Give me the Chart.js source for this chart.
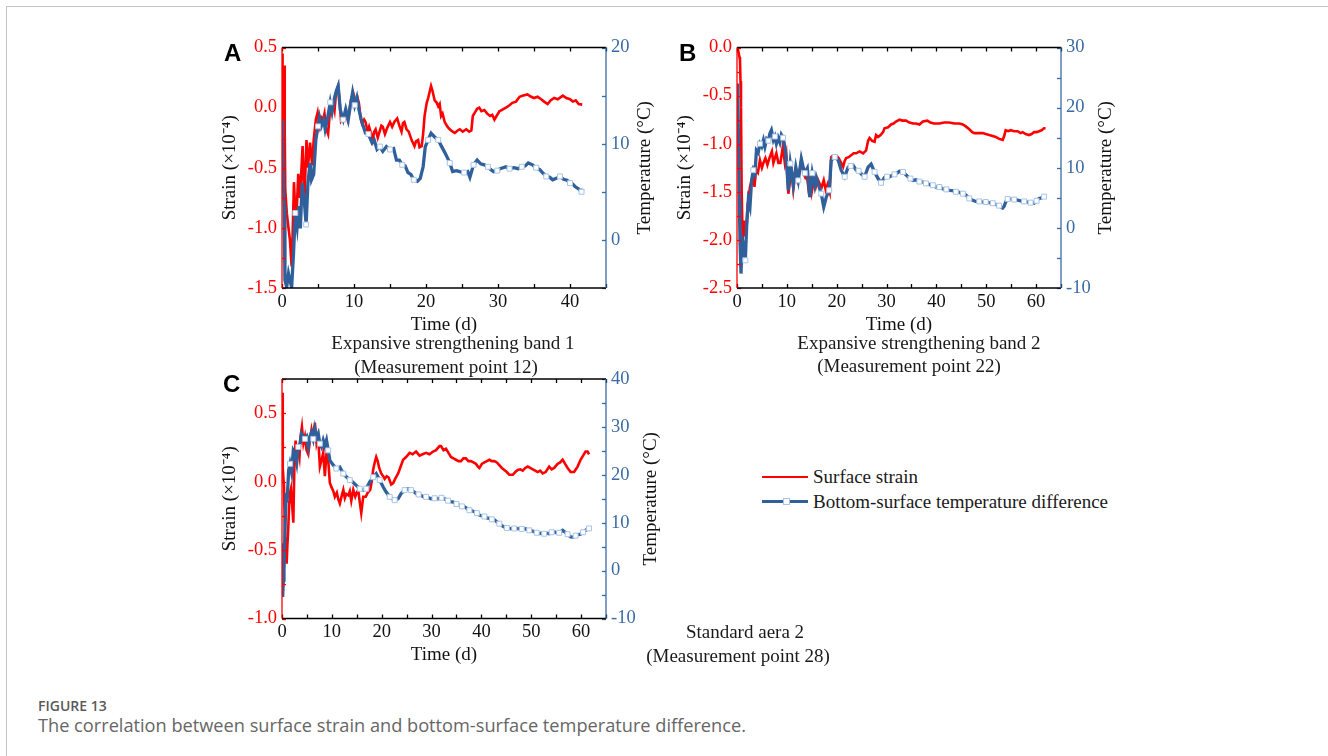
<!DOCTYPE html>
<html><head><meta charset="utf-8">
<script src="https://cdn.jsdelivr.net/npm/chart.js@4.4.1/dist/chart.umd.min.js"></script>
<style>
html,body{margin:0;padding:0;background:#fff;}
body{width:1328px;height:756px;position:relative;overflow:hidden;}
.abs{position:absolute;}
canvas{position:absolute;}
.serif{position:absolute;font-family:"Liberation Serif","Times New Roman",serif;font-size:19px;color:#1a1a1a;line-height:22px;white-space:nowrap;text-align:center;width:400px;}
.lt{text-align:left;width:auto;}
.letter{position:absolute;font-family:"Liberation Sans",Arial,sans-serif;font-weight:bold;font-size:24px;line-height:28px;color:#000;}
.cap1{position:absolute;left:38px;top:697px;font-family:"Open Sans",sans-serif;font-size:14px;font-weight:600;color:#5a5a5a;line-height:18px;}
.cap2{position:absolute;left:38px;top:713px;font-family:"Open Sans",sans-serif;font-size:18.2px;color:#666;line-height:24px;white-space:nowrap;}
</style></head><body>
<div class="abs" style="left:6px;top:6px;width:1330px;height:760px;border-top:1px solid #c4c4c4;border-left:1px solid #c4c4c4;"></div>

<canvas id="cA" width="460" height="320" style="left:210px;top:30px"></canvas>
<canvas id="cB" width="460" height="320" style="left:670px;top:30px"></canvas>
<canvas id="cC" width="460" height="320" style="left:210px;top:360px"></canvas>

<div class="letter" style="left:224px;top:39px">A</div>
<div class="letter" style="left:679px;top:39px">B</div>
<div class="letter" style="left:223px;top:370px">C</div>

<div class="serif" style="left:253px;top:332px">Expansive strengthening band 1</div>
<div class="serif" style="left:246px;top:356px">(Measurement point 12)</div>
<div class="serif" style="left:719px;top:332px">Expansive strengthening band 2</div>
<div class="serif" style="left:709px;top:355px">(Measurement point 22)</div>
<div class="serif" style="left:545px;top:621px">Standard aera 2</div>
<div class="serif" style="left:538px;top:645px">(Measurement point 28)</div>

<div class="abs" style="left:762px;top:476px;width:46px;height:2px;background:#ff0000"></div>
<div class="serif lt" style="left:813px;top:466px">Surface strain</div>
<div class="abs" style="left:762px;top:500px;width:46px;height:3px;background:#2f609c"></div>
<div class="abs" style="left:783px;top:498px;width:5px;height:5px;background:#fff;border:1px solid #a9c4e6"></div>
<div class="serif lt" style="left:813px;top:491px">Bottom-surface temperature difference</div>

<div class="cap1">FIGURE 13</div>
<div class="cap2">The correlation between surface strain and bottom-surface temperature difference.</div>

<script>
// ---------- Panel A (Expansive strengthening band 1, point 12) ----------
const timeStrainA = [0,0.08,0.18,0.28,0.38,0.45,0.67,0.9,1.1,1.34,1.5,1.66,1.94,2.26,2.5,2.86,3.1,3.4,3.6,3.9,4.2,4.4,4.7,4.95,5.2,5.45,5.7,5.9,6.1,6.4,6.7,7.1,7.3,7.5,7.8,8.0,8.2,8.5,8.8,9.1,9.3,9.6,9.9,10.2,10.5,10.7,10.9,11.1,11.4,11.6,11.9,12.1,12.4,12.6,12.8,13.0,13.3,13.5,13.8,14.0,14.3,14.6,15.0,15.3,15.6,16.0,16.3,16.6,16.8,17.0,17.3,17.6,18.0,18.4,18.6,18.9,19.1,19.4,19.6,19.8,20.1,20.3,20.5,20.7,20.9,21.2,21.5,21.7,21.9,22.1,22.3,22.6,23.0,23.3,23.7,24.0,24.4,24.7,25.1,25.6,26.0,26.3,26.5,26.8,27.1,27.4,27.7,28.1,28.5,28.9,29.2,29.5,29.8,30.2,30.5,31.1,31.6,32.0,32.5,33.0,33.5,34.1,34.6,35.0,35.5,36.0,36.4,36.9,37.3,37.8,38.3,39.0,39.5,40.0,40.4,40.8,41.2,41.7];
const strainA = [0.45,-0.55,0.05,0.35,-0.2,-0.68,-0.88,-1.0,-1.1,-1.32,-1.0,-0.62,-1.0,-0.55,-0.75,-0.32,-0.8,-0.27,-0.5,-0.29,-0.48,-0.27,-0.1,-0.04,-0.15,-0.08,-0.1,-0.05,-0.17,-0.22,0.0,0.04,-0.02,0.12,0.18,0.05,-0.11,-0.08,-0.04,-0.1,-0.04,0.07,0.12,0.05,0.08,0.03,-0.08,-0.13,-0.1,-0.12,-0.2,-0.16,-0.22,-0.27,-0.2,-0.18,-0.25,-0.21,-0.15,-0.16,-0.22,-0.17,-0.12,-0.16,-0.12,-0.09,-0.15,-0.2,-0.13,-0.12,-0.18,-0.2,-0.27,-0.32,-0.28,-0.27,-0.33,-0.32,-0.22,-0.07,0.04,0.08,0.13,0.18,0.14,0.06,0.04,0.01,0.03,-0.07,-0.05,-0.12,-0.16,-0.18,-0.2,-0.21,-0.19,-0.18,-0.2,-0.18,-0.2,-0.19,-0.07,-0.04,-0.01,0.0,-0.03,-0.02,-0.05,-0.07,-0.06,-0.1,-0.07,-0.03,-0.02,0.0,0.02,0.04,0.05,0.09,0.1,0.11,0.09,0.08,0.09,0.07,0.05,0.03,0.06,0.08,0.07,0.1,0.08,0.07,0.05,0.06,0.03,0.025];
const timeTempA = [0,0.1,0.2,0.3,0.41,0.65,0.9,1.1,1.34,1.6,1.85,2.1,2.3,2.55,2.8,3.05,3.35,3.6,3.9,4.1,4.4,4.7,5.0,5.2,5.45,5.8,6.0,6.3,6.7,6.95,7.3,7.55,7.8,8.1,8.5,8.85,9.2,9.5,9.8,10.1,10.4,10.7,11.0,11.3,11.6,12.0,12.5,12.8,13.2,13.6,14.0,14.5,15.0,15.5,15.9,16.3,16.7,17.1,17.5,17.9,18.3,18.8,19.2,19.6,19.9,20.3,20.7,21.2,21.7,22.1,22.6,23.0,23.3,23.7,24.2,24.7,25.3,25.8,26.1,26.6,27.1,27.6,28.1,28.6,29.0,29.4,29.9,30.3,31.1,31.6,32.2,32.8,33.3,33.8,34.2,34.8,35.3,35.8,36.3,36.7,37.2,37.6,38.1,38.6,39.1,39.6,40.0,40.4,40.7,41.2,41.6,41.8];
const tempA = [12.5,10,6.0,3.5,-4.2,-4.9,-3.5,-4.2,-4.9,-1.4,2.8,1.4,3.5,1.2,5.9,4.5,1.6,5.9,8.0,6.25,6.8,10.4,11.8,12.7,11.8,12.5,11.5,12.5,14.3,13.3,14.8,15.5,16.0,13.5,12.5,13.6,12.5,14.0,15.3,14.0,14.8,13.5,12.5,11.8,11.1,11.0,10.1,10.4,9.4,9.7,9.2,9.7,9.4,9.5,8.3,8.3,7.8,7.7,7.0,6.8,6.25,6.1,6.4,7.6,9.7,10.4,11.1,10.7,10.4,9.8,9.1,8.5,8.0,7.1,7.2,7.1,7.0,7.1,6.5,7.8,8.3,7.9,7.8,7.6,7.3,7.1,7.2,7.4,7.6,7.4,7.5,7.4,7.6,7.7,8.0,7.8,7.5,7.3,6.9,6.6,6.5,6.25,6.4,6.6,6.3,6.2,5.9,5.8,5.55,5.3,5.0,5.3];

// ---------- Panel B (Expansive strengthening band 2, point 22) ----------
const timeStrainB = [0,0.1,0.3,0.5,0.6,0.7,0.8,0.93,1.13,1.27,1.45,1.6,1.8,1.93,2.1,2.27,2.6,2.93,3.3,3.5,3.8,4.2,4.6,5.0,5.3,5.7,6.1,6.5,7.0,7.3,7.9,8.3,8.7,9.2,9.6,9.9,10.3,10.6,10.9,11.3,11.7,12.1,12.5,12.9,13.3,13.7,14.0,14.3,14.7,15.0,15.4,15.8,16.2,16.6,17.0,17.4,17.8,18.2,18.6,18.9,19.3,19.9,20.4,20.9,21.3,21.6,21.9,22.4,22.9,23.4,23.9,24.6,25.3,25.9,26.3,26.6,27.1,27.6,27.9,28.3,28.8,29.3,29.6,30.3,30.9,31.4,31.9,32.6,33.2,33.9,34.6,35.3,35.9,36.6,37.3,38.2,38.8,39.5,40.6,41.6,42.6,43.6,44.6,45.3,45.9,46.6,47.2,47.6,48.4,49.3,49.9,50.6,51.3,51.9,52.6,53.3,53.6,53.9,54.4,54.9,55.6,56.3,56.9,57.3,57.9,58.6,59.1,59.6,60.1,60.6,61.1,61.6,61.9];
const strainB = [-0.02,0.0,-0.05,-0.1,-0.13,-0.35,-0.62,-1.48,-2.0,-1.8,-1.95,-1.93,-1.8,-1.87,-1.65,-1.59,-1.45,-1.38,-1.3,-1.45,-1.27,-1.3,-1.17,-1.25,-1.2,-1.15,-1.22,-1.15,-1.08,-1.2,-1.1,-1.2,-1.2,-1.03,-1.2,-1.12,-1.52,-1.4,-1.24,-1.47,-1.3,-1.38,-1.3,-1.17,-1.3,-1.35,-1.32,-1.45,-1.35,-1.5,-1.38,-1.45,-1.37,-1.42,-1.45,-1.38,-1.48,-1.42,-1.5,-1.14,-1.12,-1.12,-1.15,-1.2,-1.24,-1.18,-1.15,-1.14,-1.12,-1.1,-1.1,-1.08,-1.1,-1.07,-0.97,-0.94,-0.97,-0.98,-0.91,-0.93,-0.91,-0.88,-0.84,-0.83,-0.8,-0.79,-0.77,-0.75,-0.76,-0.76,-0.78,-0.79,-0.79,-0.8,-0.77,-0.76,-0.78,-0.79,-0.79,-0.78,-0.78,-0.79,-0.79,-0.8,-0.82,-0.85,-0.88,-0.89,-0.89,-0.89,-0.9,-0.91,-0.92,-0.93,-0.95,-0.96,-0.92,-0.86,-0.87,-0.86,-0.87,-0.87,-0.89,-0.88,-0.9,-0.91,-0.9,-0.88,-0.88,-0.87,-0.86,-0.84,-0.84];
const timeTempB = [0,0.07,0.2,0.35,0.47,0.6,0.8,0.95,1.07,1.25,1.4,1.67,1.93,2.1,2.27,2.6,2.93,3.27,3.6,3.9,4.25,4.6,4.95,5.3,5.6,5.95,6.3,6.6,6.9,7.3,7.6,7.9,8.25,8.6,8.9,9.25,9.6,9.9,10.3,10.7,11.0,11.3,11.8,12.3,12.9,13.3,13.6,14.1,14.6,15.1,15.6,15.9,16.4,16.9,17.4,17.9,18.5,18.9,19.6,20.3,20.9,21.6,22.3,22.8,23.3,23.9,24.4,24.9,25.6,26.3,26.9,27.6,28.3,28.9,29.6,30.1,30.6,31.1,31.6,32.1,32.6,33.3,33.8,34.3,34.8,35.3,35.9,36.6,37.3,37.9,38.6,39.3,39.9,40.6,41.3,42.0,42.6,43.3,43.9,44.6,45.3,46.0,46.6,47.3,47.9,48.6,49.3,49.9,50.6,51.3,51.9,52.6,53.3,53.6,53.9,54.3,54.9,55.6,56.3,56.9,57.6,58.3,58.9,59.6,60.1,60.6,61.1,61.6,61.9];
const tempB = [20,24,23,12,4.6,-2.1,-7.6,-4,-2.0,-2.5,-3.2,-5.4,0.1,2.5,4.6,3.5,7.9,9.6,9.0,12.9,12.5,14.0,13.5,14.6,13.5,14.8,14.5,15.7,16.25,14.6,15.2,14.0,15.0,14.2,15.5,15.0,13.5,11.25,6.25,10.7,9.0,7.0,10.1,7.9,11.5,10.0,9.1,9.9,5.1,9.1,7.0,8.4,7.0,5.7,3.5,5.1,6.25,11.25,11.8,11.3,9.6,8.5,10.1,10.3,10.4,9.6,9.5,9.0,8.5,10.1,10.6,9.3,8.2,7.5,8.4,8.5,8.5,8.7,8.9,9.1,9.4,9.3,8.9,8.5,8.2,7.9,8.0,7.7,7.6,7.4,7.2,7.1,6.8,6.8,6.5,6.4,6.25,6.2,6.0,5.9,5.7,5.4,4.9,4.6,4.4,4.4,4.3,4.3,4.2,4.1,3.9,3.7,3.3,3.6,4.3,4.8,4.8,4.7,4.6,4.5,4.4,4.3,4.2,4.1,4.5,4.9,5.0,5.2,5.3];

// ---------- Panel C (Standard area 2, point 28) ----------
const timeStrainC = [0,0.1,0.2,0.4,0.6,0.8,0.93,1.1,1.27,1.45,1.6,1.8,2.0,2.27,2.47,2.73,3.0,3.27,3.5,3.73,4.0,4.3,4.6,4.93,5.27,5.6,5.93,6.25,6.6,6.93,7.25,7.6,7.95,8.27,8.6,8.93,9.27,9.6,9.93,10.3,10.6,11.0,11.3,11.6,12.0,12.3,12.6,12.9,13.3,13.6,13.9,14.3,14.7,15.0,15.3,15.6,15.9,16.3,16.8,17.2,17.7,18.0,18.3,18.6,18.9,19.2,19.5,19.9,20.3,20.6,21.0,21.4,21.9,22.3,22.7,23.3,23.7,24.3,24.9,25.6,26.2,26.9,27.6,28.2,28.9,29.6,30.3,30.9,31.6,31.9,32.4,32.9,33.4,33.9,34.4,34.9,35.4,35.9,36.4,36.9,37.4,37.9,38.4,38.9,39.3,39.6,40.1,40.6,41.1,41.6,42.1,42.6,43.1,43.6,44.1,44.6,45.1,45.6,46.3,46.8,47.3,47.8,48.3,48.8,49.3,49.8,50.3,50.8,51.3,51.8,52.3,52.9,53.6,54.1,54.6,55.3,55.8,56.3,56.8,57.3,57.9,58.6,59.3,59.9,60.4,60.9,61.3,61.6];
const strainC = [0.65,0.55,0.1,-0.04,-0.4,-0.5,-0.6,-0.45,-0.33,-0.15,-0.08,-0.05,-0.15,-0.3,0.09,0.3,0.2,0.23,0.18,0.33,0.4,0.28,0.33,0.23,0.2,0.3,0.38,0.32,0.43,0.28,0.33,0.11,0.16,0.21,0.04,0.21,0.16,-0.01,-0.04,-0.07,-0.11,-0.08,-0.13,-0.16,-0.1,-0.06,-0.12,-0.09,-0.1,-0.07,-0.14,-0.06,-0.11,-0.08,-0.06,-0.15,-0.23,-0.11,-0.11,-0.08,-0.06,0.0,0.09,0.14,0.18,0.15,0.1,0.06,0.04,0.02,0.04,0.03,-0.02,-0.01,0.02,0.06,0.1,0.16,0.18,0.21,0.2,0.22,0.19,0.2,0.21,0.2,0.22,0.23,0.26,0.26,0.23,0.24,0.21,0.18,0.17,0.16,0.15,0.15,0.17,0.17,0.15,0.15,0.14,0.13,0.11,0.1,0.13,0.14,0.15,0.16,0.15,0.15,0.14,0.12,0.1,0.085,0.07,0.05,0.05,0.07,0.085,0.09,0.08,0.1,0.11,0.1,0.09,0.08,0.07,0.08,0.06,0.07,0.11,0.09,0.1,0.13,0.14,0.16,0.13,0.1,0.07,0.07,0.11,0.16,0.19,0.22,0.22,0.2];
const timeTempC = [0,0.13,0.27,0.4,0.6,0.8,1.05,1.33,1.6,1.93,2.27,2.6,2.95,3.27,3.6,3.93,4.27,4.6,4.93,5.27,5.6,5.93,6.27,6.6,6.93,7.27,7.6,7.93,8.27,8.6,8.93,9.27,9.6,10.3,10.9,11.6,12.3,12.9,13.6,14.2,14.9,15.6,16.3,16.9,17.6,18.3,18.9,19.6,20.3,20.9,21.6,22.1,22.6,23.3,23.9,24.6,25.3,25.9,26.4,26.9,27.4,27.9,28.4,28.9,29.4,29.9,30.6,31.3,32.0,32.6,33.3,33.8,34.4,35.0,35.6,36.1,36.6,37.1,37.6,38.1,38.6,39.1,39.6,40.1,40.6,41.1,41.6,42.1,42.6,43.1,43.6,44.1,44.6,45.1,45.6,46.1,46.6,47.1,47.6,48.1,48.6,49.1,49.6,50.1,50.6,51.1,51.6,52.1,52.6,53.1,53.6,54.1,54.6,55.1,55.6,56.3,56.8,57.3,57.9,58.4,58.9,59.4,59.9,60.4,60.9,61.3,61.6];
const tempC = [5.7,-5.5,-2.0,0.1,8.4,15.4,15.0,20.9,22.3,20.5,25.1,24.5,22.5,25.8,26.5,28.6,28.0,27.5,28.0,25.8,28.0,28.9,27.5,29.6,27.8,28.6,26.5,25.8,27.2,26.0,27.2,25.1,23.0,22.0,21.3,21.6,20.25,19.6,18.9,18.5,17.8,17.1,16.8,17.1,18.5,19.5,20.25,18.9,17.45,16.4,15.4,15.0,14.7,15.0,16.1,16.8,17.1,16.8,16.5,16.1,15.9,15.7,15.4,15.4,15.2,15.0,15.1,15.0,15.2,15.0,14.6,14.4,14.3,13.9,13.6,13.4,13.3,13.0,12.6,12.5,12.3,12.0,11.6,11.4,11.3,11.0,10.9,10.7,10.6,10.2,9.8,9.4,9.1,8.9,8.8,8.7,8.8,8.7,8.8,8.7,8.8,8.6,8.4,8.3,8.1,7.9,7.75,7.8,7.7,7.8,7.7,8.0,8.1,7.9,7.9,8.4,8.0,7.6,7.05,7.0,7.3,7.5,7.6,8.0,8.4,8.7,8.8];

// ---------- Axis ranges & tick labels ----------
const xRangeA = [0, 45], xRangeB = [0, 65], xRangeC = [0, 65];
const strainRangeA = [-1.5, 0.5], strainRangeB = [-2.5, 0.0], strainRangeC = [-1.0, 0.75];
const tempRangeA = [-5, 20], tempRangeB = [-10, 30], tempRangeC = [-10, 40];
const xTickStep = 10, strainTickStep = 0.5, tempTickStep = 10;
const labelStrain = 'Strain (\u00d710\u207b\u2074)';
const labelTemp = 'Temperature (\u00b0C)';
const labelTime = 'Time (d)';
const seriesNames = ['Surface strain', 'Bottom-surface temperature difference'];

const RED = '#ff0000', BLUE = '#2f609c', AXBLUE = '#3a6aa5';
const SERIF = '"Liberation Serif","Times New Roman",serif';

const framePlugin = {
  id: 'frame',
  afterDraw(chart, args, o) {
    const {ctx, chartArea: a, scales} = chart;
    const x = scales.x, yl = scales.y, yr = scales.y1;
    const L = 4;
    ctx.save();
    ctx.lineWidth = 1.3;
    const seg = (c, x1, y1, x2, y2) => { ctx.strokeStyle = c; ctx.beginPath(); ctx.moveTo(x1, y1); ctx.lineTo(x2, y2); ctx.stroke(); };
    for (let v = x.min; v <= x.max + 1e-9; v += o.xStep) {
      const p = Math.round(x.getPixelForValue(v)) + 0.5;
      seg('#000', p, a.bottom, p, a.bottom - L);
      seg('#000', p, a.top, p, a.top + L);
    }
    for (let v = yl.min; v <= yl.max + 1e-9; v += o.ylStep) {
      const p = Math.round(yl.getPixelForValue(v)) + 0.5;
      seg(RED, a.left, p, a.left + L, p);
    }
    for (let v = yr.min; v <= yr.max + 1e-9; v += o.yrStep) {
      const p = Math.round(yr.getPixelForValue(v)) + 0.5;
      seg(AXBLUE, a.right, p, a.right - L, p);
    }
    seg('#000', a.left, a.top, a.right, a.top);
    seg('#000', a.left, a.bottom, a.right, a.bottom);
    seg(RED, a.left, a.top, a.left, a.bottom);
    seg(AXBLUE, a.right, a.top, a.right, a.bottom);
    // right axis title, read bottom-to-top
    ctx.translate(o.rTitleX, (a.top + a.bottom) / 2);
    ctx.rotate(-Math.PI / 2);
    ctx.fillStyle = '#111';
    ctx.font = '19px ' + SERIF;
    ctx.textAlign = 'center';
    ctx.textBaseline = 'middle';
    ctx.fillText(o.rTitle, 0, 0);
    ctx.restore();
  }
};

function markerRadius(step) {
  return ctx => {
    const d = ctx.dataset.data, i = ctx.dataIndex;
    if (!d || i === 0) return 0;
    return Math.floor(d[i].x / step) !== Math.floor(d[i - 1].x / step) ? 3.5 : 0;
  };
}

function panel(id, c) {
  const tickFont = {family: SERIF, size: 18.5};
  const titleFont = {family: SERIF, size: 19};
  new Chart(document.getElementById(id), {
    type: 'line',
    data: {
      datasets: [
        { label: seriesNames[1], yAxisID: 'y1', order: 0,
          data: c.tT.map((t, i) => ({x: t, y: c.T[i]})),
          borderColor: BLUE, borderWidth: 3.3, tension: 0,
          pointRadius: markerRadius(c.mStep), pointStyle: 'rect',
          pointBackgroundColor: '#ffffff', pointBorderColor: '#a9c4e6', pointBorderWidth: 1 },
        { label: seriesNames[0], yAxisID: 'y', order: 1,
          data: c.tS.map((t, i) => ({x: t, y: c.S[i]})),
          borderColor: RED, borderWidth: 2.6, tension: 0, pointRadius: 0 }
      ]
    },
    options: {
      responsive: false, animation: false, devicePixelRatio: 1,
      layout: {padding: {top: c.padTop, left: 0, right: 0, bottom: 0}},
      plugins: {legend: {display: false}, tooltip: {enabled: false},
        frame: {xStep: 5, ylStep: 0.25, yrStep: 5, rTitle: labelTemp, rTitleX: c.rTX}},
      scales: {
        x: { type: 'linear', min: c.xR[0], max: c.xR[1],
          afterFit: s => { s.height = c.xH; },
          grid: {display: false, drawTicks: false}, border: {display: false},
          ticks: {stepSize: xTickStep, includeBounds: false, autoSkip: false, maxRotation: 0,
            padding: 3, color: '#111', font: tickFont},
          title: {display: true, text: labelTime, color: '#111', font: titleFont, padding: {top: 0, bottom: 13.6}} },
        y: { type: 'linear', position: 'left', min: c.sR[0], max: c.sR[1],
          afterFit: s => { s.width = c.lW; },
          grid: {display: false, drawTicks: false}, border: {display: false},
          ticks: {stepSize: strainTickStep, includeBounds: false, autoSkip: false,
            padding: c.lPad, color: RED, font: tickFont, callback: v => v.toFixed(1)},
          title: {display: true, text: labelStrain, color: '#111', font: titleFont, padding: {top: c.lTP, bottom: 0}} },
        y1: { type: 'linear', position: 'right', min: c.TR[0], max: c.TR[1],
          afterFit: s => { s.width = c.rW; },
          grid: {display: false, drawTicks: false, drawOnChartArea: false}, border: {display: false},
          ticks: {stepSize: tempTickStep, includeBounds: false, autoSkip: false,
            padding: 5, color: AXBLUE, font: tickFont, callback: v => String(Math.round(v))},
          title: {display: false, text: labelTemp} }
      }
    },
    plugins: [framePlugin]
  });
}

panel('cA', {tS: timeStrainA, S: strainA, tT: timeTempA, T: tempA, xR: xRangeA, sR: strainRangeA, TR: tempRangeA,
  mStep: 1.66, padTop: 17.5, xH: 62, lW: 72, rW: 64, lPad: 5, lTP: 8.6, rTX: 435});
panel('cB', {tS: timeStrainB, S: strainB, tT: timeTempB, T: tempB, xR: xRangeB, sR: strainRangeB, TR: tempRangeB,
  mStep: 1.5, padTop: 17.5, xH: 62, lW: 67, rW: 69, lPad: 5, lTP: 3.6, rTX: 436.5});
panel('cC', {tS: timeStrainC, S: strainC, tT: timeTempC, T: tempC, xR: xRangeC, sR: strainRangeC, TR: tempRangeC,
  mStep: 1.5, padTop: 19, xH: 61.5, lW: 72, rW: 64, lPad: 5, lTP: 8.6, rTX: 441.5});
</script>
</body></html>
